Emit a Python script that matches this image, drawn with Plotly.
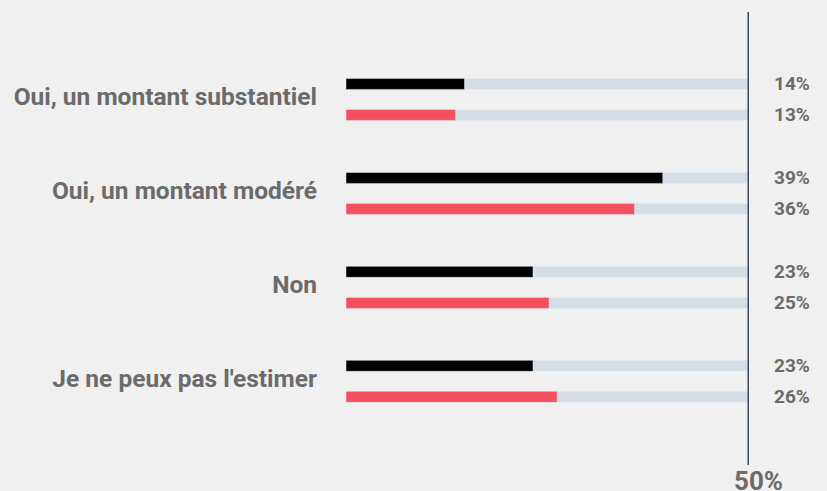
import plotly.graph_objects as go

# Données
categories = ["Oui, un montant substantiel", "Oui, un montant modéré", "Non", "Je ne peux pas l'estimer"]
serie_noire = [14.7, 39.3, 23.2, 23.2]
serie_rouge = [13.6, 35.8, 25.2, 26.2]
labels_noir = ["14%", "39%", "23%", "23%"]
labels_rouge = ["13%", "36%", "25%", "26%"]
maximum = 50

gris_txt = "#6b6b6b"
w = 0.117
off_noir = -0.165 - w / 2
off_rouge = 0.165 - w / 2

fig = go.Figure()

# barres de fond grises jusqu'à 50%
for off in (off_noir, off_rouge):
    fig.add_trace(go.Bar(
        y=categories, x=[maximum] * len(categories), orientation="h",
        marker_color="#d6dee5", width=w, offset=off, hoverinfo="skip",
        showlegend=False,
    ))

fig.add_trace(go.Bar(y=categories, x=serie_noire, orientation="h",
                     marker_color="#000000", width=w, offset=off_noir, showlegend=False))
fig.add_trace(go.Bar(y=categories, x=serie_rouge, orientation="h",
                     marker_color="#f2505d", width=w, offset=off_rouge, showlegend=False))

# étiquettes de valeurs à droite
for i in range(len(categories)):
    for lab, d in ((labels_noir[i], -0.165), (labels_rouge[i], 0.165)):
        fig.add_annotation(x=maximum, y=i + d, xref="x", yref="y", text="<b>" + lab + "</b>",
                           showarrow=False, xanchor="left", xshift=23,
                           font=dict(family="Roboto", size=19, color=gris_txt))

fig.add_annotation(x=maximum, y=0, xref="x", yref="paper", text="<b>50%</b>",
                   showarrow=False, yanchor="top", yshift=1, xshift=9,
                   font=dict(family="Roboto", size=26, color=gris_txt))

fig.add_shape(type="line", x0=maximum, x1=maximum, xref="x", y0=0, y1=1, yref="paper",
              line=dict(color="#3a4a5c", width=3))

fig.update_layout(
    width=827, height=491,
    barmode="overlay",
    paper_bgcolor="#f0f0f0", plot_bgcolor="#f0f0f0",
    margin=dict(l=346, r=78, t=12, b=26),
    xaxis=dict(range=[0, maximum], visible=False),
    yaxis=dict(range=[3.89, -0.93], showgrid=False, zeroline=False, ticks="",
               ticklabelstandoff=28, ticklabelshift=3,
               tickvals=categories, ticktext=["<b>" + c + "</b>" for c in categories],
               tickfont=dict(family="Roboto", size=24.5, color=gris_txt)),
)

fig.write_html("out.html", config={"displayModeBar": False},
               post_script="document.body.style.margin='0';")
